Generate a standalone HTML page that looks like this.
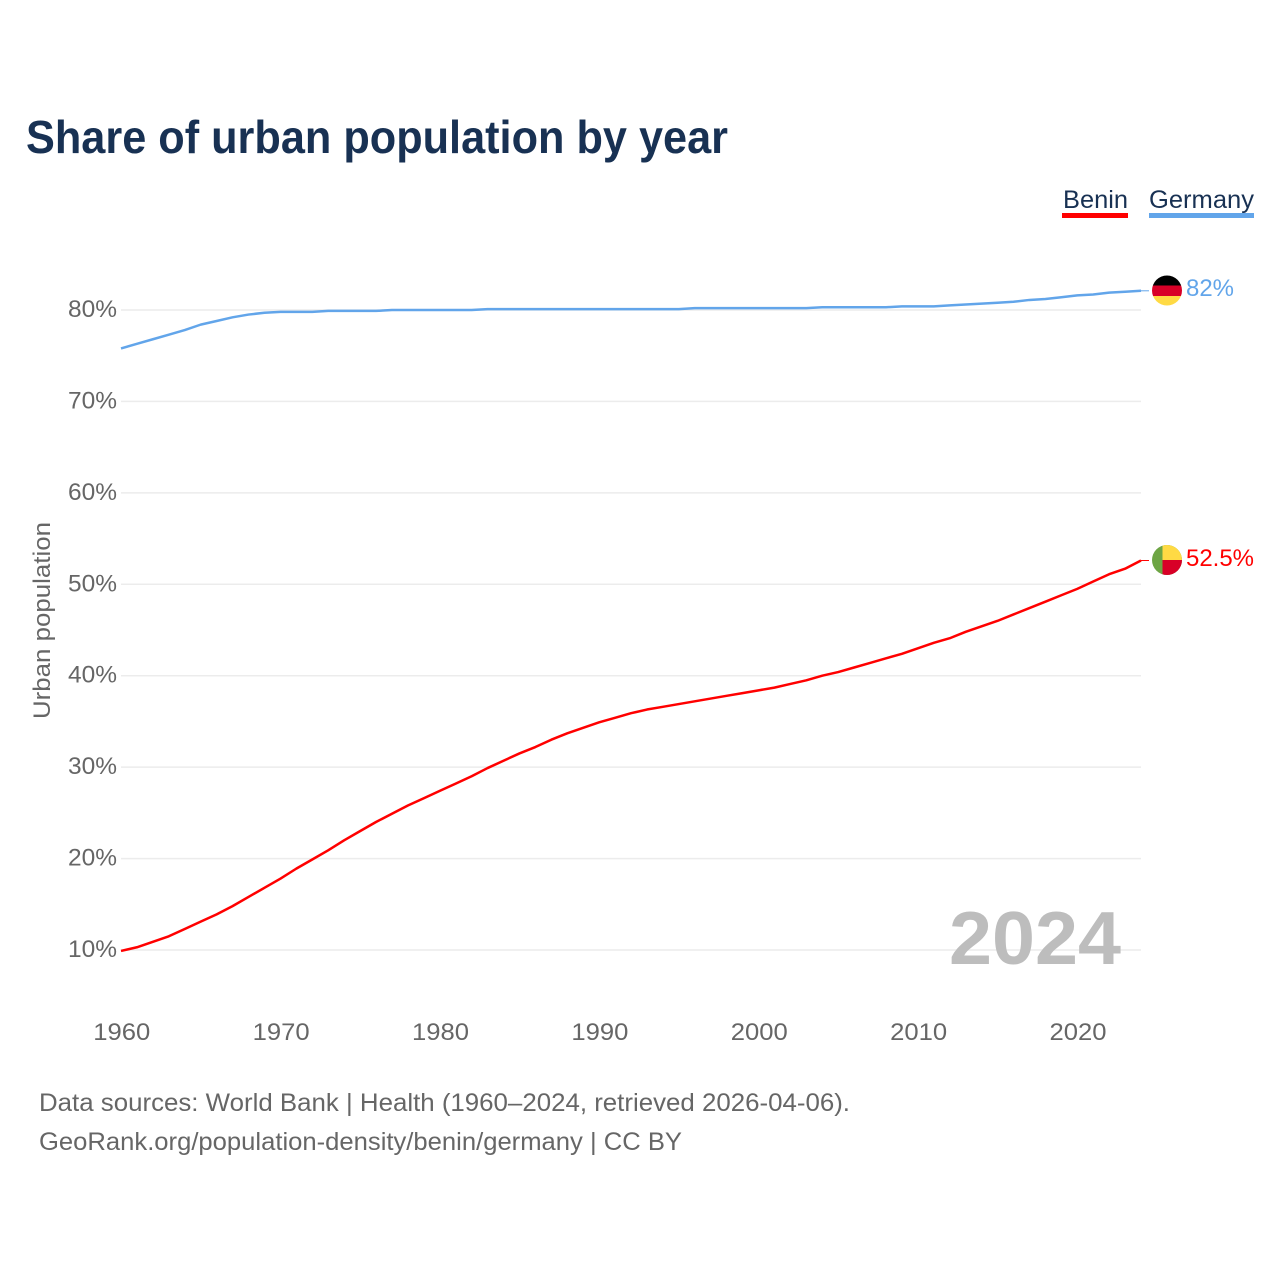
<!DOCTYPE html>
<html lang="en">
<head>
<meta charset="utf-8">
<title>Share of urban population by year</title>
<style>
html,body{margin:0;padding:0;background:#fff;width:1280px;height:1280px;overflow:hidden}
svg{display:block;font-family:"Liberation Sans",sans-serif}
</style>
</head>
<body>
<svg id="chart" width="1280" height="1280" viewBox="0 0 1280 1280" xmlns="http://www.w3.org/2000/svg">
  <defs>
    <clipPath id="clip-de"><circle cx="1167" cy="290.5" r="15"/></clipPath>
    <clipPath id="clip-bj"><circle cx="1167" cy="560" r="15"/></clipPath>
  </defs>
  <text x="26" y="153" font-size="46" font-weight="700" fill="#183153" textLength="702" lengthAdjust="spacingAndGlyphs">Share of urban population by year</text>

  <g>
    <g>
      <text x="1063" y="208" font-size="25" fill="#183153" textLength="65" lengthAdjust="spacingAndGlyphs">Benin</text>
      <rect x="1062" y="213" width="66" height="5" fill="#ff0000"/>
    </g>
    <g>
      <text x="1149" y="208" font-size="25" fill="#183153" textLength="105" lengthAdjust="spacingAndGlyphs">Germany</text>
      <rect x="1149" y="213" width="105" height="5" fill="#62a5ea"/>
    </g>
  </g>

  <g id="grid"></g>
  <g id="yticks"></g>
  <g id="xticks"></g>

  <text transform="translate(50,719) rotate(-90)" x="0" y="0" font-size="24" fill="#666666" textLength="197" lengthAdjust="spacingAndGlyphs">Urban population</text>

  <text x="949" y="964" font-size="75" font-weight="700" fill="#bdbdbd" textLength="172" lengthAdjust="spacingAndGlyphs">2024</text>

  <g id="series"></g>

  <g clip-path="url(#clip-de)">
    <rect x="1152" y="275" width="30" height="10.5" fill="#000000"/>
    <rect x="1152" y="285.5" width="30" height="10.5" fill="#d80027"/>
    <rect x="1152" y="296" width="30" height="10" fill="#ffda44"/>
  </g>
  <g clip-path="url(#clip-bj)">
    <rect x="1152" y="545" width="30" height="30" fill="#6da544"/>
    <rect x="1162.5" y="545" width="19.5" height="15" fill="#ffda44"/>
    <rect x="1162.5" y="560" width="19.5" height="15" fill="#d80027"/>
  </g>

  <text x="1186" y="296" font-size="24" fill="#62a5ea" textLength="48" lengthAdjust="spacingAndGlyphs">82%</text>
  <text x="1186" y="566" font-size="24" fill="#ff0000" textLength="68" lengthAdjust="spacingAndGlyphs">52.5%</text>

  <text x="39" y="1111" font-size="25" fill="#666666" textLength="811" lengthAdjust="spacingAndGlyphs">Data sources: World Bank | Health (1960–2024, retrieved 2026-04-06).</text>
  <text x="39" y="1150" font-size="25" fill="#666666" textLength="643" lengthAdjust="spacingAndGlyphs">GeoRank.org/population-density/benin/germany | CC BY</text>
</svg>
<script>
const startYear = 1960;
const yTickValues = [10, 20, 30, 40, 50, 60, 70, 80];
const yTickLabels = ['10%', '20%', '30%', '40%', '50%', '60%', '70%', '80%'];
const xTickValues = [1960, 1970, 1980, 1990, 2000, 2010, 2020];
const xTickLabels = ['1960', '1970', '1980', '1990', '2000', '2010', '2020'];
const beninValues = [
  9.9, 10.3, 10.9, 11.5, 12.3, 13.1, 13.9, 14.8, 15.8, 16.8,
  17.8, 18.9, 19.9, 20.9, 22.0, 23.0, 24.0, 24.9, 25.8, 26.6,
  27.4, 28.2, 29.0, 29.9, 30.7, 31.5, 32.2, 33.0, 33.7, 34.3,
  34.9, 35.4, 35.9, 36.3, 36.6, 36.9, 37.2, 37.5, 37.8, 38.1,
  38.4, 38.7, 39.1, 39.5, 40.0, 40.4, 40.9, 41.4, 41.9, 42.4,
  43.0, 43.6, 44.1, 44.8, 45.4, 46.0, 46.7, 47.4, 48.1, 48.8,
  49.5, 50.3, 51.1, 51.7, 52.6
];
const germanyValues = [
  75.8, 76.3, 76.8, 77.3, 77.8, 78.4, 78.8, 79.2, 79.5, 79.7,
  79.8, 79.8, 79.8, 79.9, 79.9, 79.9, 79.9, 80.0, 80.0, 80.0,
  80.0, 80.0, 80.0, 80.1, 80.1, 80.1, 80.1, 80.1, 80.1, 80.1,
  80.1, 80.1, 80.1, 80.1, 80.1, 80.1, 80.2, 80.2, 80.2, 80.2,
  80.2, 80.2, 80.2, 80.2, 80.3, 80.3, 80.3, 80.3, 80.3, 80.4,
  80.4, 80.4, 80.5, 80.6, 80.7, 80.8, 80.9, 81.1, 81.2, 81.4,
  81.6, 81.7, 81.9, 82.0, 82.1
];

const NS = 'http://www.w3.org/2000/svg';
function xScale(year) { return 121 + (year - 1960) * (1141 - 121) / 64; }
function yScale(v) { return 950 - (v - 10) * (950 - 310) / 70; }
function make(tag, attrs, parent) {
  const el = document.createElementNS(NS, tag);
  for (const k in attrs) el.setAttribute(k, attrs[k]);
  parent.appendChild(el);
  return el;
}

const grid = document.getElementById('grid');
const yticks = document.getElementById('yticks');
const xticks = document.getElementById('xticks');
const series = document.getElementById('series');

yTickValues.forEach(function (v, i) {
  const line = make('line', { x1: 121, x2: 1141, y1: yScale(v), y2: yScale(v), stroke: '#ececec', 'stroke-width': 1.5 }, grid);
  
  
  const t = make('text', { x: 117, y: yScale(v) + 7, 'font-size': 24, fill: '#666666', 'text-anchor': 'end', textLength: 49, lengthAdjust: 'spacingAndGlyphs' }, yticks);
  
  
  t.textContent = yTickLabels[i];
});

xTickValues.forEach(function (yr, i) {
  const t = make('text', { x: xScale(yr) + 0.8, y: 1040, 'font-size': 24, fill: '#666666', 'text-anchor': 'middle', textLength: 57, lengthAdjust: 'spacingAndGlyphs' }, xticks);
  
  
  t.textContent = xTickLabels[i];
});

function pathFor(values) {
  return values.map(function (v, i) {
    return (i ? 'L' : 'M') + xScale(startYear + i).toFixed(2) + ' ' + yScale(v).toFixed(2);
  }).join(' ');
}

const germanyLine = make('path', { d: pathFor(germanyValues), fill: 'none', stroke: '#62a5ea', 'stroke-width': 2.5, 'stroke-linejoin': 'round' }, series);



const beninLine = make('path', { d: pathFor(beninValues), fill: 'none', stroke: '#ff0000', 'stroke-width': 2.5, 'stroke-linejoin': 'round' }, series);



const lastGermany = germanyValues[germanyValues.length - 1];
const germanyLeader = make('line', { x1: xScale(2024), x2: 1149, y1: yScale(lastGermany), y2: yScale(lastGermany), stroke: '#62a5ea', 'stroke-width': 1 }, series);



const lastBenin = beninValues[beninValues.length - 1];
const beninLeader = make('line', { x1: xScale(2024), x2: 1149, y1: yScale(lastBenin), y2: yScale(lastBenin), stroke: '#ff0000', 'stroke-width': 1 }, series);


</script>
</body>
</html>
